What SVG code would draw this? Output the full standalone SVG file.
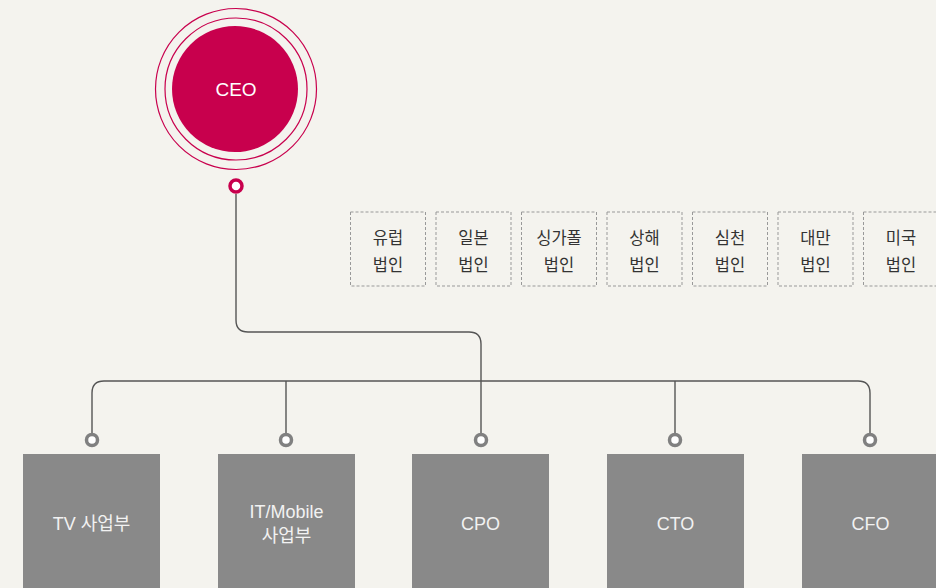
<svg xmlns="http://www.w3.org/2000/svg" width="936" height="588" viewBox="0 0 936 588">
<style>
.bg{fill:#f4f3ee}
.ring{fill:none;stroke:#c8004d;stroke-width:1.2}
.ceo{fill:#c8004d}
.wt{fill:#ffffff;font-family:"Liberation Sans","Noto Sans CJK KR",sans-serif;font-size:19px;text-anchor:middle}
.sub{fill:none;stroke:#999;stroke-width:1;stroke-dasharray:3 2}
.st{fill:#333;font-family:"Noto Sans CJK KR",sans-serif;font-size:16.5px;text-anchor:middle}
.box{fill:#898989}
.bt{fill:#f2f2f2;font-family:"Liberation Sans","Noto Sans CJK KR",sans-serif;font-size:18px;text-anchor:middle}
.ln{fill:none;stroke:#555;stroke-width:1.4}
.dot{fill:#fff;stroke:#808080;stroke-width:3.5}
</style>
<rect class="bg" x="0" y="0" width="936" height="588"/>
<g id="connectors">
<path class="ln" d="M236 194 V320 Q236 332 248 332 H469 Q481 332 481 344 V433"/>
<path class="ln" d="M92 433 V393 Q92 381 104 381 H858 Q870 381 870 393 V433"/>
<path class="ln" d="M286 381 V433"/>
<path class="ln" d="M675 381 V433"/>
<circle class="dot" cx="92" cy="440" r="5.5"/>
<circle class="dot" cx="286" cy="440" r="5.5"/>
<circle class="dot" cx="481" cy="440" r="5.5"/>
<circle class="dot" cx="675" cy="440" r="5.5"/>
<circle class="dot" cx="870" cy="440" r="5.5"/>
<circle cx="236" cy="186" r="6" fill="#fff" stroke="#c8004d" stroke-width="3.5"/>
</g>
<g id="ceo">
<circle class="ring" cx="236" cy="89" r="80.5"/>
<circle class="ring" cx="236" cy="89" r="71"/>
<circle class="ceo" cx="235" cy="89" r="63"/>
<text class="wt" x="236" y="96">CEO</text>
</g>
<g id="sub-eu"><rect class="sub" x="350.5" y="212" width="75" height="74"/><text class="st" x="388" y="244">유럽</text><text class="st" x="388" y="271">법인</text></g>
<g id="sub-jp"><rect class="sub" x="436" y="212" width="75" height="74"/><text class="st" x="473.5" y="244">일본</text><text class="st" x="473.5" y="271">법인</text></g>
<g id="sub-sg"><rect class="sub" x="521.5" y="212" width="75" height="74"/><text class="st" x="559" y="244">싱가폴</text><text class="st" x="559" y="271">법인</text></g>
<g id="sub-sh"><rect class="sub" x="607" y="212" width="75" height="74"/><text class="st" x="644.5" y="244">상해</text><text class="st" x="644.5" y="271">법인</text></g>
<g id="sub-sz"><rect class="sub" x="692.5" y="212" width="75" height="74"/><text class="st" x="730" y="244">심천</text><text class="st" x="730" y="271">법인</text></g>
<g id="sub-tw"><rect class="sub" x="778" y="212" width="75" height="74"/><text class="st" x="815.5" y="244">대만</text><text class="st" x="815.5" y="271">법인</text></g>
<g id="sub-us"><rect class="sub" x="863.5" y="212" width="75" height="74"/><text class="st" x="901" y="244">미국</text><text class="st" x="901" y="271">법인</text></g>
<g id="tv"><rect class="box" x="23" y="454" width="137" height="140"/><text class="bt" x="91.5" y="530">TV 사업부</text></g>
<g id="it"><rect class="box" x="218" y="454" width="137" height="140"/><text class="bt" x="286.5" y="518">IT/Mobile</text><text class="bt" x="286.5" y="542">사업부</text></g>
<g id="cpo"><rect class="box" x="412" y="454" width="137" height="140"/><text class="bt" x="480.5" y="530">CPO</text></g>
<g id="cto"><rect class="box" x="607" y="454" width="137" height="140"/><text class="bt" x="675.5" y="530">CTO</text></g>
<g id="cfo"><rect class="box" x="802" y="454" width="137" height="140"/><text class="bt" x="870.5" y="530">CFO</text></g>
</svg>
